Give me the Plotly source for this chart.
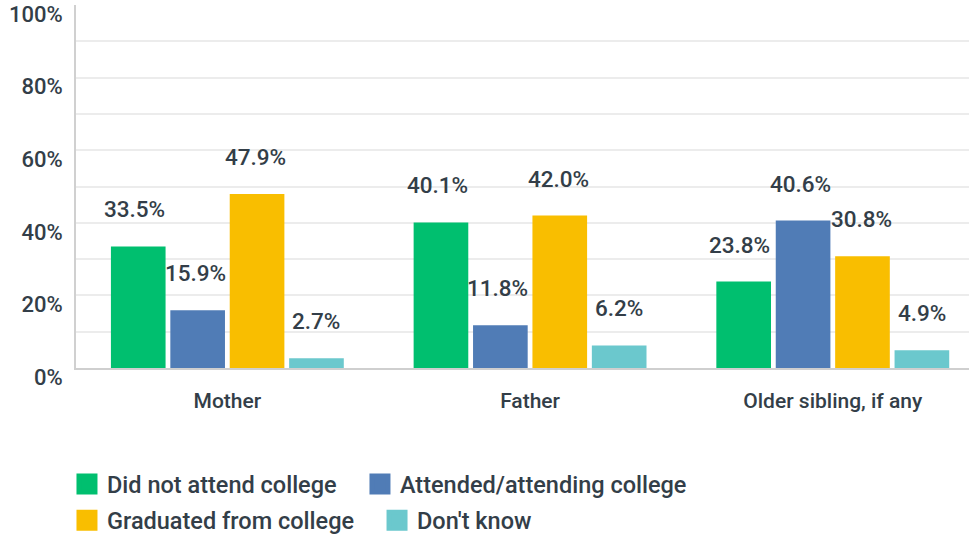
import plotly.graph_objects as go

categories = ["Mother", "Father", "Older sibling, if any"]
series_names = ["Did not attend college", "Attended/attending college",
                "Graduated from college", "Don't know"]
did_not_attend = [33.5, 40.1, 23.8]
attended = [15.9, 11.8, 40.6]
graduated = [47.9, 42.0, 30.8]
dont_know = [2.7, 6.2, 4.9]
y_tick_vals = [0, 20, 40, 60, 80, 100]
y_tick_text = ["0%", "20%", "40%", "60%", "80%", "100%"]

series_values = [did_not_attend, attended, graduated, dont_know]
colors = ["#00bf6f", "#507cb6", "#f9be00", "#6bc8cd"]
text_color = "#333e48"
FONT = "Roboto"

fig = go.Figure()
for name, vals, col in zip(series_names, series_values, colors):
    fig.add_trace(go.Bar(x=list(range(len(categories))), y=vals, name=name,
                         marker=dict(color=col, line=dict(width=0)),
                         showlegend=False, hoverinfo="skip"))

# legend entries (one legend box per entry, laid out in two rows)
legend_ids = ["legend", "legend2", "legend3", "legend4"]
for name, col, lg in zip(series_names, colors, legend_ids):
    fig.add_trace(go.Scatter(x=[None], y=[None], mode="markers", name=name,
                             marker=dict(symbol="square", size=16, color=col,
                                         line=dict(color=col, width=5)),
                             legend=lg, showlegend=True))

annotations = []
for i, vals in enumerate(series_values):
    for j, v in enumerate(vals):
        annotations.append(dict(x=j + (i - 1.5) * 0.2, y=v, xref="x", yref="y",
                                text=f"{v:.1f}%", showarrow=False, yshift=37, xshift=-2,
                                font=dict(family=FONT, size=22.5, color=text_color, weight=500)))

leg_font = dict(family=FONT, size=23.5, color=text_color, weight=500)


def leg(x, y):
    return dict(orientation="h", x=x, xanchor="left", y=y, yanchor="middle",
                font=leg_font, itemsizing="trace", itemwidth=30,
                bgcolor="rgba(0,0,0,0)")


fig.update_layout(
    width=969, height=539,
    margin=dict(l=76, r=0, t=5, b=171, autoexpand=False),
    plot_bgcolor="white", paper_bgcolor="white",
    barmode="group", bargap=0.215, bargroupgap=0.08,
    annotations=annotations,
    font=dict(family=FONT, color=text_color),
    xaxis=dict(range=[-0.5, 2.45], tickmode="array", automargin=False,
               tickvals=list(range(len(categories))), ticktext=categories,
               showgrid=False, showline=True, linecolor="#cfcfcf", linewidth=2,
               ticks="", ticklabelstandoff=13, zeroline=False,
               tickfont=dict(family=FONT, size=21, color=text_color, weight=500)),
    yaxis=dict(range=[0, 100], tickmode="array", tickvals=y_tick_vals, ticktext=y_tick_text,
               automargin=False, ticklabeloverflow="allow",
               showgrid=False, showline=True, linecolor="#d0d0d0", linewidth=2,
               zeroline=False, ticks="", ticklabelshift=9, ticklabelstandoff=7,
               tickfont=dict(family=FONT, size=22, color=text_color, weight=500),
               minor=dict(tickvals=[10, 20, 30, 40, 50, 60, 70, 80, 90], showgrid=True,
                          gridcolor="#ececec", gridwidth=1.5, ticks="")),
    legend=leg(-0.0101, -0.32),
    legend2=leg(0.3180, -0.32),
    legend3=leg(-0.0101, -0.42),
    legend4=leg(0.3371, -0.42),
)

fig.write_html("out.html", config={"displayModeBar": False},
               post_script="document.body.style.margin='0';document.body.style.padding='0';")
